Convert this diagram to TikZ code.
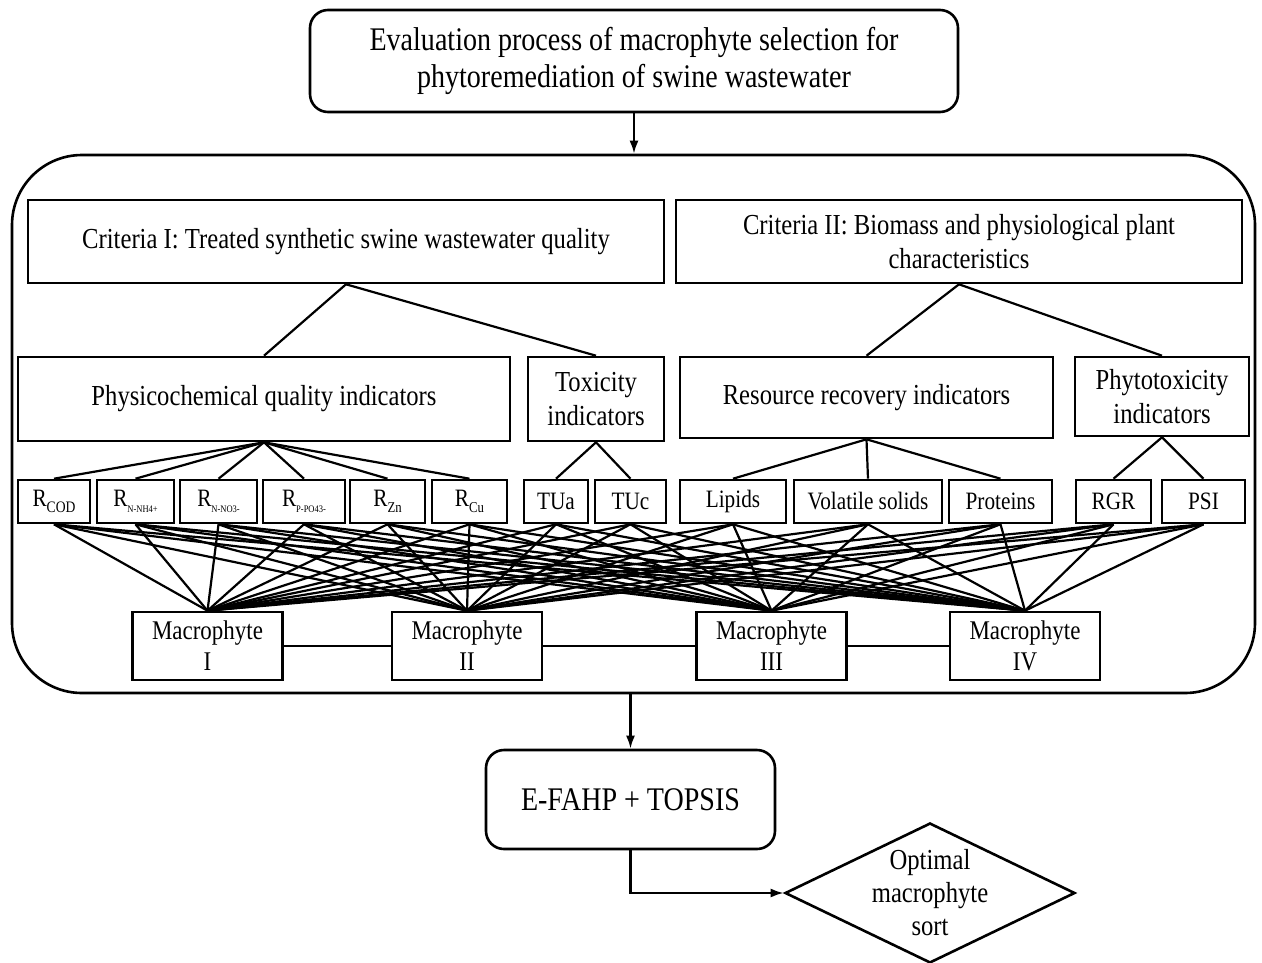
\documentclass[tikz,border=0pt]{standalone}
\usepackage{fontspec}
\setmainfont[FakeStretch=0.85]{Liberation Serif}
\usetikzlibrary{arrows.meta}
\usetikzlibrary{shapes.geometric}
\newcommand{\fsz}[2]{\fontsize{#1}{#2}\selectfont}
\newcommand{\Rsub}[2]{R\raisebox{-0.22em}{\fsz{#1}{#1}#2}}

\begin{document}
\begin{tikzpicture}[x=1pt, y=-1pt,
    >={Latex[length=13pt,width=9pt]},
    box/.style={draw, line width=2.6pt, inner sep=0pt, align=center},
    rbox/.style={box, rounded corners=18pt},
    ibox/.style={box, minimum height=43pt, font=\fsz{25}{30}},
    mbox/.style={box, minimum width=150pt, minimum height=68pt, font=\fsz{27}{31}},
    link/.style={line width=2.2pt}]
                \useasboundingbox (0,0) rectangle (1262,962);
                % outer frame
                \node[box, rounded corners=70pt, minimum width=1243pt, minimum height=538pt] (FR) at (633.5,424) {};
                \node[rbox, minimum width=648pt, minimum height=102pt, font=\fsz{33}{37}] (EV) at (634,61) {Evaluation process of macrophyte selection for\\phytoremediation of swine wastewater};
                % criteria
                \node[box, minimum width=636pt, minimum height=83pt, font=\fsz{29}{34}] (CI) at (346,241.5) {Criteria I: Treated synthetic swine wastewater quality};
                \node[box, minimum width=566pt, minimum height=83pt, font=\fsz{29}{34}] (CII) at (959,241.5) {Criteria II: Biomass and physiological plant\\characteristics};
                % indicator groups
                \node[box, minimum width=492pt, minimum height=84pt, font=\fsz{29}{34}] (PQ) at (264,399) {Physicochemical quality indicators};
                \node[box, minimum width=136pt, minimum height=84pt, font=\fsz{29}{34}] (TOX) at (596,399) {Toxicity\\indicators};
                \node[box, minimum width=373pt, minimum height=81pt, font=\fsz{29}{34}] (RR) at (866.5,397.5) {Resource recovery indicators};
                \node[box, minimum width=174pt, minimum height=79pt, font=\fsz{29}{34}] (PHY) at (1162,396.5) {Phytotoxicity\\indicators};
                % indicators
                \node[ibox, minimum width=72pt] (RCOD) at (54,501.5) {\Rsub{16}{COD}};
                \node[ibox, minimum width=77pt] (RNH) at (135.5,501.5) {\Rsub{10}{N-NH4+}};
                \node[ibox, minimum width=77pt] (RNO) at (218.5,501.5) {\Rsub{10}{N-NO3-}};
                \node[ibox, minimum width=82pt] (RPO) at (304,501.5) {\Rsub{10}{P-PO43-}};
                \node[ibox, minimum width=75pt] (RZN) at (387.5,501.5) {\Rsub{15}{Zn}};
                \node[ibox, minimum width=75pt] (RCU) at (469.5,501.5) {\Rsub{15}{Cu}};
                \node[ibox, minimum width=64pt] (TUa) at (556,501.5) {TUa};
                \node[ibox, minimum width=71pt] (TUc) at (630.5,501.5) {TUc};
                \node[ibox, minimum width=106pt] (LIP) at (733,501.5) {Lipids};
                \node[ibox, minimum width=148pt] (VS) at (868,501.5) {Volatile solids};
                \node[ibox, minimum width=103pt] (PRO) at (1000.5,501.5) {Proteins};
                \node[ibox, minimum width=75pt] (RGR) at (1113.5,501.5) {RGR};
                \node[ibox, minimum width=83pt] (PSI) at (1203.5,501.5) {PSI};
                % macrophytes
                \node[mbox] (MI) at (207.5,646) {Macrophyte\\I};
                \node[mbox] (MII) at (467,646) {Macrophyte\\II};
                \node[mbox] (MIII) at (771.5,646) {Macrophyte\\III};
                \node[mbox] (MIV) at (1025,646) {Macrophyte\\IV};
                % ranking
                \node[rbox, minimum width=289pt, minimum height=99pt, font=\fsz{33}{38}] (ET) at (630.5,799.5) {E-FAHP + TOPSIS};
                \node[draw, diamond, line width=2.6pt, inner sep=0pt, minimum width=290pt, minimum height=140pt] (OPT) at (930,893) {};
                \node[align=center, font=\fsz{29}{33}] (OPTtxt) at (OPT.center) {Optimal\\macrophyte\\sort};
                % tree links
                \draw[link] (CI.south) -- (PQ.north);
                \draw[link] (CI.south) -- (TOX.north);
                \draw[link] (CII.south) -- (RR.north);
                \draw[link] (CII.south) -- (PHY.north);
                \foreach \k in {RCOD,RNH,RNO,RPO,RZN,RCU}
                    \draw[link] (PQ.south) -- (\k.north);
                \foreach \k in {TUa,TUc}
                    \draw[link] (TOX.south) -- (\k.north);
                \foreach \k in {LIP,VS,PRO}
                    \draw[link] (RR.south) -- (\k.north);
                \foreach \k in {RGR,PSI}
                    \draw[link] (PHY.south) -- (\k.north);
                \foreach \k in {RCOD,RNH,RNO,RPO,RZN,RCU,TUa,TUc,LIP,VS,PRO,RGR,PSI}
                    \foreach \m in {MI,MII,MIII,MIV}
                        \draw[link] (\k.south) -- (\m.north);
                \draw[link] (MI) -- (MII);
                \draw[link] (MII) -- (MIII);
                \draw[link] (MIII) -- (MIV);
                % flow arrows
                \draw[link,->] (EV.south) -- (EV.south |- FR.north);
                \draw[link,->] (ET.north |- FR.south) -- (ET.north);
                \draw[link,->] (ET.south) |- (OPT.west);
            \end{tikzpicture}
\end{document}
